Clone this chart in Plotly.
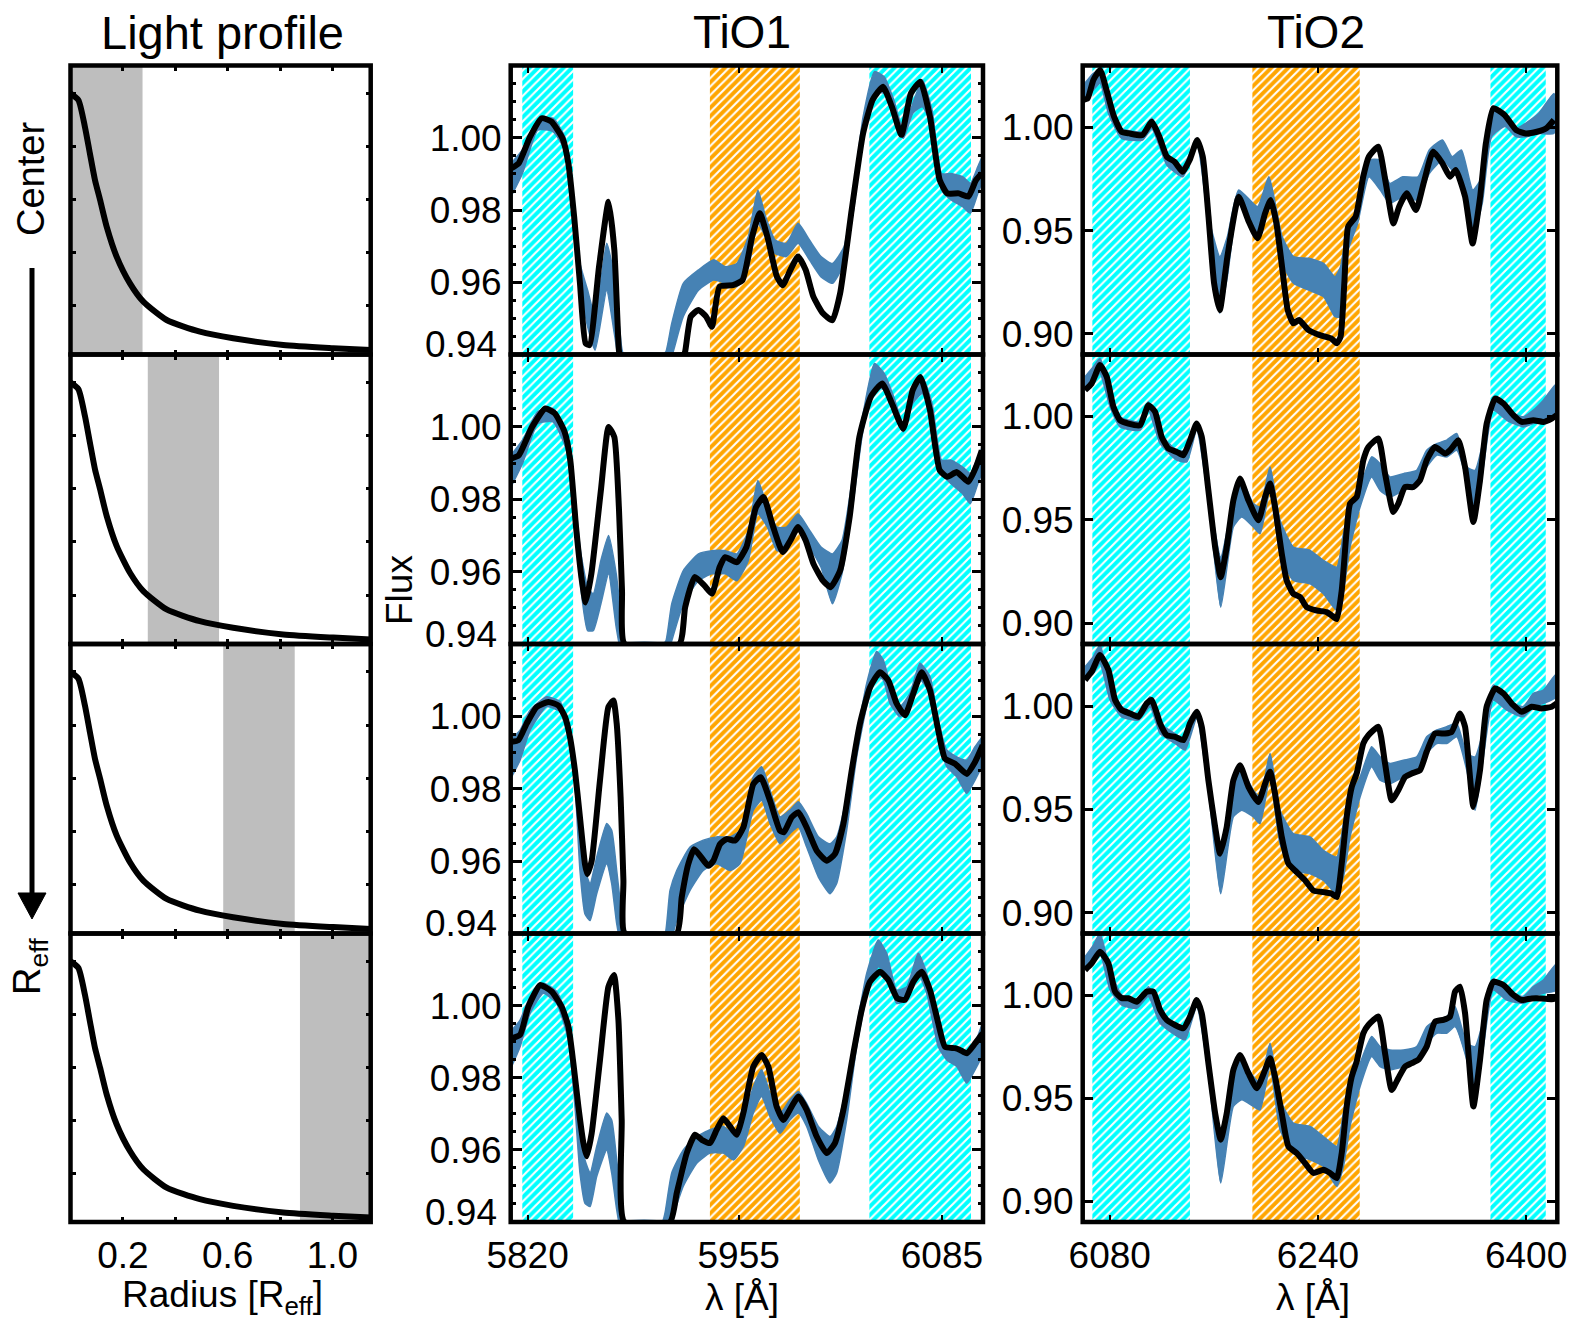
import plotly.graph_objects as go

W, H = 1572, 1322

# ---------------- data ----------------
# Light profile (normalised surface brightness vs radius in R_eff)
LP_RADIUS = [0.0, 0.030, 0.055, 0.074, 0.0935, 0.113, 0.138, 0.176, 0.227, 0.278,
             0.367, 0.494, 0.621, 0.812, 1.003, 1.146]
LP_INTENSITY = [1.0, 0.975, 0.874, 0.774, 0.673, 0.598, 0.498, 0.385, 0.284, 0.215,
                0.146, 0.102, 0.077, 0.052, 0.040, 0.033]
# radial bins highlighted in each row (R_eff)
BIN_INNER = [0.0, 0.295, 0.583, 0.876]
BIN_OUTER = [0.275, 0.567, 0.856, 1.146]

# index passbands (Angstrom)
TIO1_CONT_BLUE = (5816.625, 5849.125)
TIO1_FEATURE = (5936.625, 5994.125)
TIO1_CONT_RED = (6038.625, 6103.625)
TIO2_CONT_BLUE = (6066.625, 6141.625)
TIO2_FEATURE = (6189.625, 6272.125)
TIO2_CONT_RED = (6372.625, 6415.125)

# TiO1 spectra: black line (wave, flux), blue band (wave, upper, lower)
TIO1_LINE_1 = [(5809.4, 0.9915), (5814.3, 0.9929), (5821.6, 1.0003), (5829.0, 1.0054), (5835.1, 1.0045),
               (5842.4, 0.9998), (5846.1, 0.9929), (5849.8, 0.9781), (5853.5, 0.9597), (5857.1, 0.9431),
               (5859.6, 0.9426), (5865.7, 0.9643), (5871.8, 0.9823), (5875.5, 0.9689), (5878.4, 0.9412),
               (5879.0, 0.94), (5920.0, 0.94), (5920.8, 0.9408), (5924.4, 0.9505), (5929.3, 0.9523),
               (5934.2, 0.9505), (5937.9, 0.9477), (5942.8, 0.9588), (5951.4, 0.9592), (5957.5, 0.9606),
               (5963.6, 0.9726), (5968.5, 0.9791), (5973.4, 0.9726), (5979.5, 0.9615), (5983.2, 0.9592),
               (5988.1, 0.9634), (5993.0, 0.9671), (5997.9, 0.9634), (6002.8, 0.9560), (6008.9, 0.9514),
               (6015.0, 0.9495), (6019.9, 0.9569), (6027.3, 0.9800), (6034.6, 1.0012), (6040.7, 1.0105),
               (6047.3, 1.0141), (6053.0, 1.0086), (6059.1, 1.0008), (6065.2, 1.0123), (6071.3, 1.0155),
               (6077.4, 1.0058), (6083.6, 0.9883), (6088.5, 0.9846), (6095.8, 0.9846), (6101.9, 0.9837),
               (6106.8, 0.9883), (6110.5, 0.9901)]
TIO1_BAND_1 = [(5809.4, 0.9929, 0.9837), (5816.7, 0.9966, 0.9901), (5826.5, 1.0049, 1.0021), (5836.3, 1.0054, 1.0017),
               (5843.7, 1.0003, 0.9966), (5848.6, 0.9855, 0.9800), (5853.5, 0.9652, 0.9597), (5858.4, 0.9578, 0.9477),
               (5863.2, 0.9505, 0.9412), (5870.6, 0.9708, 0.9578), (5875.5, 0.9615, 0.9458), (5879.2, 0.9458, 0.9366),
               (5881.5, 0.94, 0.94), (5906.5, 0.94, 0.94),
               (5908.5, 0.9408, 0.9357), (5912.2, 0.9486, 0.9394), (5919.6, 0.9597, 0.9505), (5929.3, 0.9634, 0.9578),
               (5939.1, 0.9662, 0.9606), (5946.5, 0.9643, 0.9597), (5953.8, 0.9652, 0.9588), (5961.2, 0.9726, 0.9643),
               (5967.3, 0.9855, 0.9763), (5972.2, 0.9782, 0.9726), (5978.3, 0.9717, 0.9680), (5985.6, 0.9708, 0.9671),
               (5993.0, 0.9763, 0.9708), (6000.3, 0.9717, 0.9662), (6007.7, 0.9671, 0.9615), (6015.0, 0.9652, 0.9597),
               (6022.4, 0.9698, 0.9652), (6028.5, 0.9855, 0.9800), (6034.6, 1.0058, 1.0003), (6041.9, 1.0183, 1.0123),
               (6048.1, 1.0169, 1.0123), (6054.2, 1.0105, 1.0068), (6060.3, 1.0021, 0.9998), (6066.4, 1.0095, 1.0068),
               (6072.5, 1.0160, 1.0086), (6078.7, 1.0077, 1.0031), (6084.8, 0.9901, 0.9855), (6090.9, 0.9901, 0.9828),
               (6098.3, 0.9892, 0.9809), (6103.2, 0.9874, 0.9791), (6108.0, 0.9920, 0.9846), (6111.0, 0.9948, 0.9883)]

TIO1_LINE_2 = [(5809.4, 0.9912), (5814.3, 0.9921), (5822.9, 1.0000), (5831.4, 1.0051), (5837.5, 1.0037),
               (5843.7, 0.9986), (5847.3, 0.9908), (5851.0, 0.9723), (5854.7, 0.9576), (5857.1, 0.9515),
               (5860.8, 0.9594), (5866.9, 0.9825), (5871.8, 1.0000), (5875.5, 0.9972), (5878.4, 0.9778),
               (5880.4, 0.9548), (5882.1, 0.94), (5917.1, 0.94), (5920.8, 0.9502), (5926.9, 0.9585),
               (5933.0, 0.9562), (5937.9, 0.9539), (5942.8, 0.9612), (5946.5, 0.9640), (5953.8, 0.9626),
               (5960.0, 0.9668), (5966.1, 0.9778), (5970.9, 0.9806), (5977.1, 0.9723), (5983.2, 0.9654),
               (5988.1, 0.9686), (5993.0, 0.9723), (5997.9, 0.9686), (6002.8, 0.9622), (6008.9, 0.9575),
               (6013.8, 0.9557), (6019.9, 0.9603), (6026.0, 0.9751), (6032.2, 0.9972), (6039.5, 1.0083),
               (6046.8, 1.0120), (6053.0, 1.0065), (6060.3, 0.9995), (6066.4, 1.0102), (6071.3, 1.0138),
               (6077.4, 1.0046), (6083.6, 0.9880), (6088.5, 0.9862), (6094.6, 0.9875), (6101.9, 0.9848),
               (6106.8, 0.9889), (6110.5, 0.9935)]
TIO1_BAND_2 = [(5809.4, 0.9922, 0.9834), (5816.7, 0.9963, 0.9898), (5826.5, 1.0042, 1.0009), (5836.3, 1.0051, 1.0014),
               (5844.9, 0.9982, 0.9935), (5849.8, 0.9834, 0.9760), (5853.5, 0.9668, 0.9575), (5858.4, 0.9557, 0.9437),
               (5862.0, 0.9539, 0.9437), (5866.9, 0.9631, 0.9511), (5871.8, 0.9700, 0.9594), (5876.7, 0.9594, 0.9446),
               (5880.4, 0.9455, 0.9363), (5882.5, 0.94, 0.94), (5906.5, 0.94, 0.94),
               (5908.5, 0.9409, 0.9354), (5912.2, 0.9511, 0.9409), (5919.6, 0.9603, 0.9511), (5929.3, 0.9649, 0.9575),
               (5937.9, 0.9658, 0.9594), (5946.5, 0.9658, 0.9594), (5953.8, 0.9649, 0.9575), (5961.2, 0.9714, 0.9631),
               (5967.3, 0.9852, 0.9760), (5973.4, 0.9778, 0.9723), (5979.5, 0.9723, 0.9658), (5985.6, 0.9723, 0.9658),
               (5993.0, 0.9760, 0.9714), (5999.1, 0.9723, 0.9677), (6007.7, 0.9668, 0.9612), (6015.0, 0.9649, 0.9511),
               (6021.1, 0.9686, 0.9594), (6027.3, 0.9843, 0.9760), (6034.6, 1.0037, 0.9991), (6041.9, 1.0175, 1.0111),
               (6048.1, 1.0148, 1.0102), (6054.2, 1.0083, 1.0037), (6060.3, 1.0009, 0.9986), (6066.4, 1.0102, 1.0065),
               (6072.5, 1.0138, 1.0092), (6078.7, 1.0065, 1.0028), (6084.8, 0.9908, 0.9871), (6090.9, 0.9908, 0.9843),
               (6098.3, 0.9889, 0.9815), (6103.2, 0.9871, 0.9788), (6108.0, 0.9917, 0.9843), (6111.0, 0.9945, 0.9880)]

TIO1_LINE_3 = [(5809.8, 0.9930), (5814.1, 0.9934), (5819.4, 0.9980), (5825.8, 1.0026), (5833.3, 1.0040),
               (5839.7, 1.0030), (5843.9, 0.9999), (5847.1, 0.9943), (5850.3, 0.9850), (5853.5, 0.9721),
               (5856.7, 0.9592), (5858.2, 0.9564), (5861.0, 0.9601), (5866.3, 0.9823), (5871.7, 1.0026),
               (5874.9, 1.0044), (5877.0, 0.9980), (5879.5, 0.9777), (5881.3, 0.9546), (5882.2, 0.94),
               (5915.4, 0.94), (5918.6, 0.9500), (5922.8, 0.9592), (5926.5, 0.9633), (5930.3, 0.9615),
               (5935.6, 0.9587), (5938.8, 0.9601), (5943.1, 0.9647), (5947.3, 0.9661), (5952.7, 0.9657),
               (5958.0, 0.9693), (5964.4, 0.9813), (5969.1, 0.9832), (5975.1, 0.9767), (5981.5, 0.9684),
               (5984.0, 0.9680), (5988.9, 0.9721), (5993.2, 0.9735), (5998.5, 0.9693), (6004.9, 0.9629),
               (6011.3, 0.9601), (6016.6, 0.9620), (6022.0, 0.9703), (6027.3, 0.9850), (6032.6, 0.9980),
               (6039.0, 1.0080), (6045.4, 1.0122), (6050.8, 1.0099), (6056.1, 1.0035), (6061.4, 1.0003),
               (6066.7, 1.0063), (6072.1, 1.0122), (6077.4, 1.0072), (6082.7, 0.9961), (6087.0, 0.9883),
               (6093.4, 0.9869), (6100.9, 0.9841), (6106.2, 0.9874), (6111.1, 0.9920)]
TIO1_BAND_3 = [(5809.8, 0.9939, 0.9833), (5815.2, 0.9962, 0.9879), (5821.6, 1.0017, 0.9962), (5832.2, 1.0054, 1.0027),
               (5840.7, 1.0041, 1.0013), (5847.1, 0.9962, 0.9925), (5850.3, 0.9851, 0.9814), (5853.5, 0.9685, 0.9574),
               (5856.7, 0.9574, 0.9454), (5860.0, 0.9538, 0.9436), (5864.2, 0.9611, 0.9510), (5870.6, 0.9704, 0.9593),
               (5873.8, 0.9685, 0.9538), (5877.0, 0.9574, 0.9427), (5880.2, 0.9454, 0.9362), (5882.5, 0.94, 0.94),
               (5906.0, 0.94, 0.94), (5907.9, 0.9399, 0.9353), (5911.1, 0.9519, 0.9371), (5915.4, 0.9574, 0.9436),
               (5923.9, 0.9639, 0.9519), (5932.4, 0.9658, 0.9574), (5941.0, 0.9667, 0.9593), (5949.5, 0.9667, 0.9574),
               (5955.9, 0.9685, 0.9593), (5964.4, 0.9833, 0.9741), (5969.7, 0.9861, 0.9768), (5975.1, 0.9796, 0.9704),
               (5981.5, 0.9722, 0.9648), (5987.8, 0.9741, 0.9676), (5993.2, 0.9764, 0.9694), (5998.5, 0.9731, 0.9639),
               (6006.0, 0.9667, 0.9556), (6013.4, 0.9648, 0.9510), (6017.7, 0.9667, 0.9538), (6024.1, 0.9778, 0.9685),
               (6030.5, 0.9944, 0.9888), (6036.9, 1.0091, 1.0027), (6043.3, 1.0179, 1.0110), (6047.5, 1.0156, 1.0101),
               (6051.8, 1.0091, 1.0036), (6058.2, 1.0027, 0.9999), (6064.6, 1.0064, 1.0027), (6071.0, 1.0147, 1.0101),
               (6077.4, 1.0110, 1.0064), (6082.7, 0.9990, 0.9944), (6088.1, 0.9907, 0.9861), (6094.5, 0.9888, 0.9833),
               (6100.9, 0.9879, 0.9787), (6106.2, 0.9916, 0.9824), (6111.1, 0.9944, 0.9870)]

TIO1_LINE_4 = [(5809.8, 0.9909), (5815.2, 0.9919), (5820.5, 0.9997), (5828.0, 1.0057), (5835.4, 1.0039),
               (5841.8, 0.9997), (5846.1, 0.9942), (5849.3, 0.9840), (5852.5, 0.9720), (5855.7, 0.9619),
               (5857.8, 0.9582), (5861.0, 0.9646), (5866.3, 0.9849), (5871.7, 1.0052), (5875.3, 1.0085),
               (5878.1, 0.9960), (5880.2, 0.9683), (5881.9, 0.94), (5911.1, 0.94), (5915.4, 0.9480),
               (5921.8, 0.9591), (5927.1, 0.9642), (5931.4, 0.9628), (5936.7, 0.9619), (5941.0, 0.9656),
               (5945.2, 0.9688), (5949.5, 0.9665), (5953.7, 0.9642), (5958.0, 0.9702), (5964.4, 0.9831),
               (5969.7, 0.9863), (5974.0, 0.9831), (5979.3, 0.9720), (5983.6, 0.9683), (5988.9, 0.9720),
               (5993.2, 0.9748), (5998.5, 0.9711), (6004.9, 0.9637), (6011.3, 0.9591), (6016.6, 0.9619),
               (6022.0, 0.9711), (6028.4, 0.9868), (6033.7, 0.9988), (6039.0, 1.0066), (6045.4, 1.0094),
               (6050.8, 1.0071), (6056.5, 1.0020), (6061.4, 1.0016), (6066.7, 1.0066), (6072.1, 1.0094),
               (6077.4, 1.0043), (6082.7, 0.9951), (6087.0, 0.9886), (6093.4, 0.9882), (6096.6, 0.9877),
               (6100.9, 0.9868), (6106.2, 0.9895), (6111.1, 0.9923)]
TIO1_BAND_4 = [(5809.8, 0.9932, 0.9831), (5815.2, 0.9960, 0.9886), (5821.6, 1.0025, 0.9979), (5830.1, 1.0062, 1.0034),
               (5838.6, 1.0039, 1.0006), (5846.1, 0.9960, 0.9905), (5850.3, 0.9803, 0.9720), (5853.5, 0.9665, 0.9536),
               (5856.7, 0.9572, 0.9452), (5860.0, 0.9536, 0.9443), (5864.2, 0.9609, 0.9526), (5870.6, 0.9702, 0.9600),
               (5873.8, 0.9683, 0.9536), (5877.0, 0.9572, 0.9434), (5880.2, 0.9452, 0.9360), (5882.5, 0.94, 0.94),
               (5906.0, 0.94, 0.94), (5907.9, 0.9425, 0.9351), (5912.2, 0.9536, 0.9406), (5919.6, 0.9600, 0.9499),
               (5928.2, 0.9637, 0.9563), (5936.7, 0.9656, 0.9591), (5945.2, 0.9665, 0.9591), (5951.6, 0.9646, 0.9572),
               (5958.0, 0.9683, 0.9609), (5964.4, 0.9775, 0.9702), (5969.7, 0.9822, 0.9748), (5975.1, 0.9757, 0.9692),
               (5981.5, 0.9702, 0.9646), (5987.8, 0.9739, 0.9683), (5993.2, 0.9762, 0.9702), (5998.5, 0.9729, 0.9665),
               (6006.0, 0.9665, 0.9572), (6013.4, 0.9637, 0.9508), (6017.7, 0.9665, 0.9536), (6024.1, 0.9775, 0.9683),
               (6030.5, 0.9942, 0.9886), (6036.9, 1.0089, 1.0025), (6044.3, 1.0182, 1.0108), (6049.7, 1.0145, 1.0089),
               (6056.1, 1.0043, 1.0006), (6062.5, 1.0052, 1.0015), (6069.9, 1.0145, 1.0089), (6075.3, 1.0089, 1.0034),
               (6082.7, 0.9932, 0.9886), (6088.1, 0.9886, 0.9849), (6094.5, 0.9877, 0.9831), (6100.9, 0.9868, 0.9785),
               (6106.2, 0.9895, 0.9822), (6111.1, 0.9951, 0.9868)]

# TiO2 spectra
TIO2_LINE_1 = [(6058.6, 1.0133), (6063.0, 1.0141), (6067.4, 1.0230), (6072.6, 1.0278), (6077.5, 1.0181),
               (6083.3, 1.0052), (6089.1, 0.9979), (6094.9, 0.9971), (6105.1, 0.9963), (6112.3, 1.0027),
               (6118.1, 0.9955), (6123.9, 0.9858), (6129.8, 0.9834), (6136.1, 0.9785), (6141.4, 0.9842),
               (6147.2, 0.9939), (6151.5, 0.9858), (6155.9, 0.9568), (6160.2, 0.9245), (6164.6, 0.9115),
               (6170.4, 0.9374), (6179.1, 0.9664), (6186.3, 0.9552), (6193.6, 0.9463), (6199.4, 0.9584),
               (6203.7, 0.9648), (6208.1, 0.9535), (6212.4, 0.9326), (6216.8, 0.9115), (6221.1, 0.9051),
               (6225.5, 0.9067), (6232.8, 0.9018), (6241.5, 0.8994), (6250.2, 0.8978), (6254.5, 0.8954),
               (6257.4, 0.8986), (6260.3, 0.9245), (6263.2, 0.9519), (6269.0, 0.9568), (6274.8, 0.9761),
               (6279.1, 0.9858), (6286.4, 0.9907), (6292.2, 0.9729), (6298.0, 0.9535), (6302.4, 0.9616),
               (6308.2, 0.9681), (6315.4, 0.9600), (6321.2, 0.9729), (6328.5, 0.9883), (6335.7, 0.9826),
               (6341.5, 0.9761), (6345.9, 0.9794), (6353.1, 0.9665), (6358.9, 0.9438), (6364.7, 0.9664),
               (6369.1, 0.9923), (6374.8, 1.0093), (6383.5, 1.0060), (6392.4, 0.9987), (6399.6, 0.9971),
               (6408.3, 0.9979), (6415.6, 0.9996), (6421.4, 1.0036)]
TIO2_BAND_1 = [(6058.7, 1.0197, 1.0109), (6067.4, 1.0262, 1.0181), (6072.6, 1.0278, 1.0214), (6079.0, 1.0133, 1.0068),
               (6089.1, 0.9995, 0.9947), (6105.1, 0.9979, 0.9939), (6112.3, 1.0044, 0.9995), (6123.9, 0.9866, 0.9818),
               (6136.1, 0.9810, 0.9761), (6147.2, 0.9947, 0.9907), (6155.9, 0.9568, 0.9519), (6164.6, 0.9374, 0.9099),
               (6170.4, 0.9471, 0.9277), (6179.1, 0.9697, 0.9632), (6193.6, 0.9616, 0.9454), (6202.3, 0.9761, 0.9664),
               (6212.5, 0.9471, 0.9341), (6221.2, 0.9374, 0.9245), (6232.8, 0.9366, 0.9212), (6244.4, 0.9341, 0.9180),
               (6253.1, 0.9277, 0.9083), (6257.4, 0.9325, 0.9083), (6263.2, 0.9535, 0.9406), (6270.5, 0.9600, 0.9535),
               (6279.2, 0.9842, 0.9761), (6287.9, 0.9842, 0.9697), (6295.2, 0.9729, 0.9632), (6305.3, 0.9761, 0.9664),
               (6316.9, 0.9761, 0.9648), (6325.6, 0.9891, 0.9777), (6335.8, 0.9939, 0.9842), (6343.1, 0.9858, 0.9794),
               (6350.3, 0.9891, 0.9761), (6359.0, 0.9697, 0.9471), (6366.3, 0.9761, 0.9632), (6373.5, 1.0092, 0.9955),
               (6383.7, 1.0060, 1.0004), (6392.4, 0.9995, 0.9955), (6399.6, 1.0020, 0.9955), (6409.8, 1.0068, 0.9971),
               (6421.4, 1.0165, 0.9971)]

TIO2_LINE_2 = [(6061.0, 1.0128), (6066.1, 1.0160), (6072.5, 1.0249), (6077.7, 1.0192), (6082.8, 1.0047),
               (6087.9, 0.9982), (6094.3, 0.9966), (6103.3, 0.9958), (6109.7, 1.0055), (6114.8, 1.0023),
               (6119.9, 0.9902), (6125.1, 0.9845), (6131.5, 0.9829), (6136.6, 0.9813), (6141.7, 0.9885),
               (6146.8, 0.9966), (6150.7, 0.9902), (6155.8, 0.9643), (6161.0, 0.9369), (6165.3, 0.9223),
               (6169.9, 0.9369), (6175.0, 0.9595), (6180.1, 0.9700), (6186.6, 0.9595), (6194.2, 0.9498),
               (6199.4, 0.9611), (6203.2, 0.9676), (6207.0, 0.9563), (6212.2, 0.9337), (6216.0, 0.9207),
               (6221.1, 0.9143), (6226.3, 0.9127), (6231.4, 0.9078), (6239.1, 0.9062), (6246.8, 0.9054),
               (6250.6, 0.9038), (6254.5, 0.9021), (6258.3, 0.9159), (6262.1, 0.9450), (6264.7, 0.9579),
               (6269.8, 0.9611), (6274.9, 0.9789), (6278.8, 0.9853), (6286.5, 0.9894), (6291.6, 0.9724),
               (6298.0, 0.9538), (6301.8, 0.9579), (6307.0, 0.9659), (6313.4, 0.9659), (6318.5, 0.9692),
               (6323.6, 0.9789), (6330.0, 0.9853), (6337.7, 0.9821), (6341.5, 0.9837), (6348.0, 0.9885),
               (6353.1, 0.9756), (6359.5, 0.9490), (6364.6, 0.9692), (6369.7, 0.9966), (6376.2, 1.0087),
               (6382.6, 1.0063), (6390.2, 1.0007), (6396.6, 0.9974), (6405.6, 0.9982), (6413.3, 0.9974),
               (6419.7, 0.9990), (6423.5, 1.0007)]
TIO2_BAND_2 = [(6061.0, 1.0192, 1.0128), (6067.4, 1.0241, 1.0160), (6072.5, 1.0281, 1.0209), (6080.2, 1.0128, 1.0047),
               (6087.9, 0.9999, 0.9950), (6103.3, 0.9974, 0.9934), (6109.7, 1.0071, 1.0031), (6118.7, 0.9918, 0.9869),
               (6131.5, 0.9837, 0.9789), (6139.2, 0.9837, 0.9781), (6146.8, 0.9974, 0.9934), (6155.8, 0.9643, 0.9595),
               (6165.3, 0.9320, 0.9078), (6175.0, 0.9595, 0.9466), (6181.4, 0.9692, 0.9514), (6190.4, 0.9579, 0.9466),
               (6195.5, 0.9563, 0.9433), (6203.2, 0.9756, 0.9643), (6210.9, 0.9498, 0.9336), (6221.1, 0.9369, 0.9207),
               (6234.0, 0.9353, 0.9191), (6244.2, 0.9304, 0.9143), (6254.5, 0.9272, 0.9062), (6259.6, 0.9433, 0.9159),
               (6264.7, 0.9563, 0.9369), (6272.4, 0.9659, 0.9563), (6281.3, 0.9805, 0.9708), (6287.8, 0.9772, 0.9643),
               (6295.4, 0.9708, 0.9611), (6305.7, 0.9724, 0.9643), (6315.9, 0.9740, 0.9676), (6323.6, 0.9837, 0.9756),
               (6331.3, 0.9869, 0.9813), (6339.0, 0.9886, 0.9805), (6346.7, 0.9918, 0.9837), (6354.4, 0.9756, 0.9692),
               (6360.8, 0.9740, 0.9498), (6367.2, 0.9886, 0.9756), (6374.9, 1.0095, 1.0031), (6385.1, 1.0031, 0.9982),
               (6397.9, 0.9999, 0.9950), (6405.6, 1.0031, 0.9966), (6413.3, 1.0079, 0.9982), (6423.5, 1.0160, 1.0015)]

TIO2_LINE_3 = [(6061.0, 1.0126), (6066.1, 1.0166), (6072.5, 1.0247), (6079.0, 1.0174), (6084.1, 1.0029),
               (6089.2, 0.9980), (6095.6, 0.9964), (6102.0, 0.9948), (6108.4, 1.0013), (6112.3, 1.0029),
               (6118.7, 0.9916), (6123.8, 0.9859), (6130.2, 0.9851), (6136.6, 0.9835), (6141.7, 0.9916),
               (6146.8, 0.9972), (6150.7, 0.9900), (6155.8, 0.9641), (6161.0, 0.9415), (6164.8, 0.9286),
               (6169.9, 0.9415), (6175.0, 0.9641), (6180.1, 0.9714), (6186.6, 0.9609), (6194.2, 0.9536),
               (6199.4, 0.9625), (6203.2, 0.9682), (6207.0, 0.9577), (6212.2, 0.9367), (6217.3, 0.9238),
               (6223.7, 0.9197), (6230.1, 0.9157), (6236.5, 0.9108), (6244.2, 0.9100), (6250.6, 0.9092),
               (6254.5, 0.9076), (6258.3, 0.9238), (6262.1, 0.9464), (6266.0, 0.9609), (6269.8, 0.9674),
               (6274.9, 0.9819), (6278.8, 0.9859), (6286.5, 0.9900), (6291.6, 0.9722), (6296.7, 0.9544),
               (6301.8, 0.9593), (6307.0, 0.9657), (6312.1, 0.9674), (6318.5, 0.9690), (6323.6, 0.9779),
               (6330.0, 0.9867), (6337.7, 0.9867), (6342.8, 0.9875), (6349.2, 0.9964), (6353.1, 0.9900),
               (6359.5, 0.9512), (6364.6, 0.9690), (6369.7, 0.9997), (6376.2, 1.0085), (6382.6, 1.0061),
               (6390.2, 1.0004), (6396.6, 0.9972), (6404.3, 0.9997), (6412.0, 0.9988), (6419.7, 0.9997),
               (6423.5, 1.0013)]
TIO2_BAND_3 = [(6061.0, 1.0190, 1.0126), (6067.4, 1.0239, 1.0158), (6072.5, 1.0295, 1.0207), (6080.2, 1.0110, 1.0029),
               (6089.2, 0.9997, 0.9948), (6102.0, 0.9964, 0.9932), (6111.0, 1.0045, 0.9997), (6118.7, 0.9916, 0.9867),
               (6130.2, 0.9867, 0.9819), (6137.9, 0.9835, 0.9787), (6146.8, 0.9980, 0.9940), (6155.8, 0.9641, 0.9593),
               (6165.3, 0.9334, 0.9092), (6175.0, 0.9609, 0.9464), (6181.4, 0.9690, 0.9496), (6190.4, 0.9593, 0.9464),
               (6195.5, 0.9560, 0.9431), (6203.2, 0.9770, 0.9657), (6210.9, 0.9496, 0.9334), (6221.1, 0.9383, 0.9205),
               (6234.0, 0.9367, 0.9189), (6244.2, 0.9302, 0.9157), (6254.5, 0.9270, 0.9092), (6259.6, 0.9431, 0.9173),
               (6264.7, 0.9560, 0.9367), (6272.4, 0.9657, 0.9560), (6281.3, 0.9803, 0.9706), (6287.8, 0.9754, 0.9641),
               (6295.4, 0.9722, 0.9625), (6305.7, 0.9738, 0.9657), (6315.9, 0.9754, 0.9690), (6323.6, 0.9851, 0.9770),
               (6331.3, 0.9884, 0.9819), (6339.0, 0.9900, 0.9819), (6346.7, 0.9916, 0.9851), (6354.4, 0.9770, 0.9690),
               (6360.8, 0.9754, 0.9496), (6367.2, 0.9884, 0.9754), (6374.9, 1.0102, 1.0029), (6385.1, 1.0029, 0.9980),
               (6397.9, 0.9997, 0.9948), (6405.6, 1.0061, 0.9997), (6413.3, 1.0077, 1.0013), (6423.5, 1.0158, 1.0045)]

TIO2_LINE_4 = [(6061.0, 1.0123), (6066.1, 1.0155), (6072.5, 1.0212), (6079.0, 1.0155), (6084.1, 1.0018),
               (6089.2, 0.9986), (6094.3, 0.9986), (6100.7, 0.9969), (6108.4, 1.0018), (6113.5, 1.0018),
               (6118.7, 0.9929), (6123.8, 0.9881), (6130.2, 0.9856), (6136.6, 0.9840), (6141.7, 0.9897),
               (6146.8, 0.9977), (6150.7, 0.9913), (6155.8, 0.9671), (6161.0, 0.9428), (6165.3, 0.9299),
               (6169.9, 0.9428), (6175.0, 0.9638), (6180.1, 0.9711), (6186.6, 0.9622), (6193.0, 0.9549),
               (6199.4, 0.9638), (6203.2, 0.9695), (6207.0, 0.9606), (6212.2, 0.9428), (6217.3, 0.9267),
               (6223.7, 0.9234), (6230.1, 0.9186), (6236.5, 0.9138), (6244.2, 0.9154), (6249.3, 0.9138),
               (6254.5, 0.9113), (6258.3, 0.9234), (6262.1, 0.9461), (6266.0, 0.9606), (6269.8, 0.9679),
               (6274.9, 0.9816), (6278.8, 0.9856), (6286.5, 0.9897), (6291.6, 0.9719), (6296.7, 0.9541),
               (6301.8, 0.9598), (6307.0, 0.9654), (6312.1, 0.9671), (6317.2, 0.9687), (6323.6, 0.9751),
               (6330.0, 0.9872), (6336.4, 0.9881), (6341.5, 0.9897), (6345.4, 1.0018), (6349.2, 1.0042),
               (6353.1, 0.9913), (6359.5, 0.9461), (6364.6, 0.9687), (6369.7, 0.9977), (6374.9, 1.0066),
               (6382.6, 1.0050), (6390.2, 1.0002), (6396.6, 0.9977), (6404.3, 0.9985), (6412.0, 0.9985),
               (6419.7, 0.9981), (6423.5, 0.9985)]
TIO2_BAND_4 = [(6061.0, 1.0187, 1.0123), (6067.4, 1.0244, 1.0155), (6072.5, 1.0300, 1.0204), (6080.2, 1.0123, 1.0026),
               (6089.2, 1.0002, 0.9953), (6100.7, 0.9969, 0.9937), (6109.7, 1.0042, 0.9994), (6118.7, 0.9929, 0.9864),
               (6130.2, 0.9848, 0.9808), (6137.9, 0.9832, 0.9784), (6146.8, 0.9985, 0.9945), (6155.8, 0.9671, 0.9622),
               (6165.3, 0.9348, 0.9089), (6175.0, 0.9606, 0.9461), (6181.4, 0.9687, 0.9493), (6190.4, 0.9606, 0.9461),
               (6195.5, 0.9574, 0.9444), (6203.2, 0.9767, 0.9654), (6210.9, 0.9493, 0.9348), (6221.1, 0.9380, 0.9235),
               (6234.0, 0.9364, 0.9202), (6244.2, 0.9315, 0.9170), (6254.5, 0.9267, 0.9073), (6259.6, 0.9428, 0.9170),
               (6264.7, 0.9558, 0.9364), (6272.4, 0.9671, 0.9558), (6281.3, 0.9800, 0.9703), (6287.8, 0.9751, 0.9654),
               (6295.4, 0.9735, 0.9638), (6305.7, 0.9735, 0.9654), (6315.9, 0.9751, 0.9687), (6323.6, 0.9848, 0.9767),
               (6331.3, 0.9880, 0.9816), (6339.0, 0.9897, 0.9816), (6345.4, 0.9945, 0.9848), (6354.4, 0.9767, 0.9687),
               (6360.8, 0.9751, 0.9493), (6367.2, 0.9880, 0.9751), (6374.9, 1.0082, 1.0026), (6385.1, 1.0026, 0.9977),
               (6397.9, 0.9994, 0.9961), (6405.6, 1.0042, 0.9994), (6413.3, 1.0074, 1.0010), (6423.5, 1.0155, 1.0026)]

TIO1_LINES = [TIO1_LINE_1, TIO1_LINE_2, TIO1_LINE_3, TIO1_LINE_4]
TIO1_BANDS = [TIO1_BAND_1, TIO1_BAND_2, TIO1_BAND_3, TIO1_BAND_4]
TIO2_LINES = [TIO2_LINE_1, TIO2_LINE_2, TIO2_LINE_3, TIO2_LINE_4]
TIO2_BANDS = [TIO2_BAND_1, TIO2_BAND_2, TIO2_BAND_3, TIO2_BAND_4]

TIO1_XTICKS = [5820, 5955, 6085]
TIO2_XTICKS = [6080, 6240, 6400]
TIO1_YTICKS = [0.96, 0.98, 1.00]
TIO1_YMIN_LABEL = 0.94      # drawn just above the bottom frame edge
TIO2_YTICKS = [0.90, 0.95, 1.00]
RADIUS_TICKS = [0.2, 0.6, 1.0]
RADIUS_YTICKS = [0.2, 0.4, 0.6, 0.8, 1.0]

# ---------------- styling / geometry ----------------
FONT = "Liberation Sans, Arial, Helvetica, sans-serif"
TICK_FONT = dict(family=FONT, size=37, color="black")
BAND_BLUE = "#4682b4"
CYAN = "#00ffff"
ORANGE = "#ffa500"
GREY = "#bebebe"
FRAME_W = 4.5
LINE_W = 6

ROW_EDGES = [65.5, 354.5, 644.0, 933.5, 1222.0]           # pixel rows (top->bottom)
COL_EDGES = [(70.5, 370.7), (510.7, 983.0), (1082.7, 1557.3)]

X_RANGES = [(0.0, 1.146), (5809.2, 6111.3), (6059.2, 6424.0)]
Y_RANGES = [(0.016, 1.105), (0.94, 1.02), (0.89, 1.03)]


def fx(p):
    return p / W


def fy(p):
    return 1 - p / H


fig = go.Figure()
layout = dict(
    template="none",
    width=W, height=H, margin=dict(l=0, r=0, t=0, b=0, pad=0, autoexpand=False),
    paper_bgcolor="white", plot_bgcolor="white",
    showlegend=False, barmode="overlay",
    font=dict(family=FONT, color="black"),
)
shapes = []
annotations = []


def hatched_bar(lo, hi, ylo, yhi, color, xa, ya):
    return go.Bar(
        x=[(lo + hi) / 2], y=[yhi - ylo], base=[ylo], width=[hi - lo],
        marker=dict(color=color, line=dict(width=0),
                    pattern=dict(shape="/", fgcolor="white", bgcolor=color,
                                 size=6, solidity=0.35)),
        xaxis=xa, yaxis=ya, hoverinfo="skip",
    )


for row in range(4):
    for col in range(3):
        k = row * 3 + col + 1
        sfx = "" if k == 1 else str(k)
        xa, ya = "x" + sfx, "y" + sfx
        xlo, xhi = X_RANGES[col]
        ylo, yhi = Y_RANGES[col]

        if col == 0:
            fig.add_trace(go.Bar(
                x=[(BIN_INNER[row] + BIN_OUTER[row]) / 2], y=[yhi - ylo], base=[ylo],
                width=[BIN_OUTER[row] - BIN_INNER[row]],
                marker=dict(color=GREY, line=dict(width=0)),
                xaxis=xa, yaxis=ya, hoverinfo="skip"))
            fig.add_trace(go.Scatter(
                x=LP_RADIUS, y=LP_INTENSITY, mode="lines",
                line=dict(color="black", width=LINE_W, shape="spline", smoothing=0.6),
                xaxis=xa, yaxis=ya, hoverinfo="skip"))
        else:
            if col == 1:
                regions = [(TIO1_CONT_BLUE, CYAN), (TIO1_FEATURE, ORANGE), (TIO1_CONT_RED, CYAN)]
                line, band = TIO1_LINES[row], TIO1_BANDS[row]
            else:
                regions = [(TIO2_CONT_BLUE, CYAN), (TIO2_FEATURE, ORANGE), (TIO2_CONT_RED, CYAN)]
                line, band = TIO2_LINES[row], TIO2_BANDS[row]
            for (a, b), c in regions:
                fig.add_trace(hatched_bar(a, b, ylo, yhi, c, xa, ya))
            bw = [p[0] for p in band]
            bhi = [p[1] for p in band]
            blo = [p[2] for p in band]
            fig.add_trace(go.Scatter(
                x=bw + bw[::-1], y=bhi + blo[::-1], mode="lines", fill="toself",
                fillcolor=BAND_BLUE,
                line=dict(color=BAND_BLUE, width=1.5, shape="spline", smoothing=0.5),
                xaxis=xa, yaxis=ya, hoverinfo="skip"))
            fig.add_trace(go.Scatter(
                x=[p[0] for p in line], y=[p[1] for p in line], mode="lines",
                line=dict(color="black", width=LINE_W, shape="spline", smoothing=0.5),
                xaxis=xa, yaxis=ya, hoverinfo="skip"))

        # axes
        x0p, x1p = COL_EDGES[col]
        xaxis = dict(
            domain=[fx(x0p), fx(x1p)], range=[xlo, xhi], anchor=ya, automargin=False,
            showgrid=False, zeroline=False, showline=False,
            ticks="inside", mirror="ticks", tickcolor="black",
            tickfont=TICK_FONT, showticklabels=(row == 3),
            ticklabelstandoff=8,
        )
        yaxis = dict(
            domain=[fy(ROW_EDGES[row + 1]), fy(ROW_EDGES[row])], range=[ylo, yhi], anchor=xa,
            automargin=False,
            showgrid=False, zeroline=False, showline=False,
            ticks="inside", mirror="ticks", tickcolor="black",
            tickfont=TICK_FONT, ticklabelstandoff=8,
        )
        if col == 0:
            xaxis.update(tickmode="array", tickvals=RADIUS_TICKS,
                         ticktext=["%.1f" % v for v in RADIUS_TICKS], ticklen=5, tickwidth=3,
                         minor=dict(tickmode="linear", tick0=0.0, dtick=0.2, ticks="inside",
                                    ticklen=5, tickwidth=3, tickcolor="black"))
            yaxis.update(tickmode="array", tickvals=RADIUS_YTICKS, showticklabels=False,
                         ticklen=5, tickwidth=3)
        elif col == 1:
            xaxis.update(tickmode="array", tickvals=TIO1_XTICKS,
                         ticktext=[str(v) for v in TIO1_XTICKS], ticklen=7, tickwidth=2)
            yaxis.update(tickmode="array", tickvals=TIO1_YTICKS,
                         ticktext=["%.2f" % v for v in TIO1_YTICKS], ticklen=11, tickwidth=3,
                         minor=dict(tickmode="linear", tick0=0.94, dtick=0.005, ticks="inside",
                                    ticklen=5, tickwidth=2.5, tickcolor="black"))
            # lowest flux label sits slightly above the frame edge
            annotations.append(dict(
                text="%.2f" % TIO1_YMIN_LABEL, xref="paper", yref=ya,
                x=fx(x0p - 12), y=TIO1_YMIN_LABEL, yshift=10,
                xanchor="right", yanchor="middle", showarrow=False, font=TICK_FONT))
        else:
            xaxis.update(tickmode="array", tickvals=TIO2_XTICKS,
                         ticktext=[str(v) for v in TIO2_XTICKS], ticklen=7, tickwidth=2)
            yaxis.update(tickmode="array", tickvals=TIO2_YTICKS,
                         ticktext=["%.2f" % v for v in TIO2_YTICKS], ticklen=10, tickwidth=3)
        layout["xaxis" + sfx] = xaxis
        layout["yaxis" + sfx] = yaxis

        # panel frame
        shapes.append(dict(type="rect", xref=xa + " domain", yref=ya + " domain",
                           x0=0, x1=1, y0=0, y1=1, layer="above",
                           line=dict(color="black", width=FRAME_W)))

# arrow from "Center" down to "R_eff"
shapes.append(dict(type="line", xref="paper", yref="paper",
                   x0=fx(32), x1=fx(32), y0=fy(268), y1=fy(897),
                   line=dict(color="black", width=5)))
shapes.append(dict(type="path", xref="paper", yref="paper",
                   path="M %.5f,%.5f L %.5f,%.5f L %.5f,%.5f Z" % (
                       fx(18), fy(893), fx(46), fy(893), fx(32), fy(919)),
                   fillcolor="black", line=dict(color="black", width=1)))
layout["shapes"] = shapes


def label(text, px, py, size=37, angle=0):
    return dict(text=text, x=fx(px), y=fy(py), xref="paper", yref="paper",
                xanchor="center", yanchor="middle", showarrow=False, textangle=angle,
                font=dict(family=FONT, size=size, color="black"))


annotations += [
    label("Light profile", 222, 32, 47),
    label("TiO1", 742, 32, 46),
    label("TiO2", 1316, 32, 46),
    label("Center", 31, 179, 38, -90),
    label("R<sub>eff</sub>", 30, 967, 38, -90),
    label("Flux", 400, 590, 37, -90),
    label("Radius [R<sub>eff</sub>]", 222, 1297, 37),
    label("λ [Å]", 742, 1297, 37),
    label("λ [Å]", 1313, 1297, 37),
]
layout["annotations"] = annotations

fig.update_layout(**layout)
fig.write_html("out.html")
